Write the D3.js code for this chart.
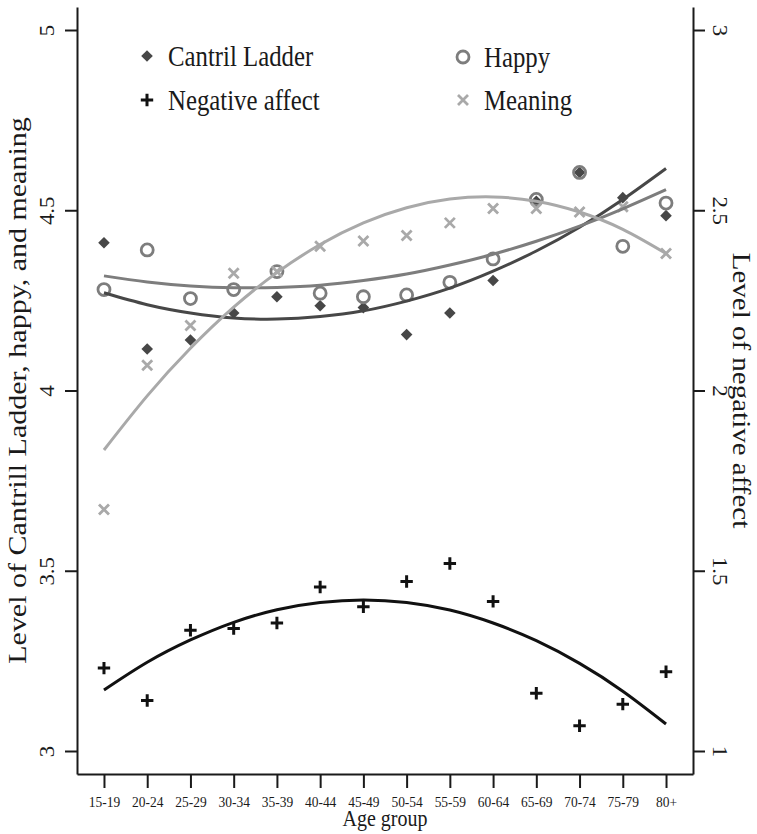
<!DOCTYPE html>
<html>
<head>
<meta charset="utf-8">
<script src="https://cdn.jsdelivr.net/npm/d3@7"></script>
<style>
  body { margin: 0; background: #fff; }
  svg text { font-family: "Liberation Serif", "Times New Roman", serif; fill: #1a1a1a; }
</style>
</head>
<body>
<svg id="chart" width="757" height="834"></svg>
<script>
/*** DATA ***/
var ages = ["15-19", "20-24", "25-29", "30-34", "35-39", "40-44", "45-49",
            "50-54", "55-59", "60-64", "65-69", "70-74", "75-79", "80+"];

// left axis series
var cantril = [4.41, 4.115, 4.14, 4.215, 4.26, 4.235, 4.23, 4.155, 4.215, 4.305, 4.525, 4.605, 4.535, 4.485];
var happy   = [4.28, 4.39, 4.255, 4.28, 4.33, 4.27, 4.26, 4.265, 4.30, 4.365, 4.53, 4.605, 4.40, 4.52];
var meaning = [3.67, 4.07, 4.18, 4.325, 4.33, 4.40, 4.415, 4.43, 4.465, 4.505, 4.505, 4.495, 4.51, 4.38];
// right axis series
var negAffect = [1.23, 1.14, 1.335, 1.34, 1.355, 1.455, 1.40, 1.47, 1.52, 1.415, 1.16, 1.07, 1.13, 1.22];

// fitted curves at each age group
var cantrilFit = [4.271, 4.238, 4.215, 4.201, 4.198, 4.205, 4.221, 4.248, 4.284, 4.331, 4.387, 4.453, 4.530, 4.616];
var happyFit   = [4.318, 4.301, 4.290, 4.285, 4.286, 4.292, 4.305, 4.323, 4.348, 4.378, 4.414, 4.456, 4.504, 4.557];
var meaningFit = [3.835, 3.985, 4.117, 4.231, 4.327, 4.405, 4.465, 4.507, 4.531, 4.537, 4.525, 4.495, 4.447, 4.380];
var negFit     = [1.169, 1.246, 1.308, 1.357, 1.392, 1.412, 1.419, 1.412, 1.391, 1.355, 1.306, 1.243, 1.166, 1.075];

var leftTicks = [3, 3.5, 4, 4.5, 5];
var rightTicks = [1, 1.5, 2, 2.5, 3];

/*** LAYOUT ***/
var plotLeft = 77, plotRight = 693, plotTop = 7, plotBottom = 774,
    SQ = 0.87,            // the original is a bit squeezed horizontally
    c_cantril = "#474747",
    c_happy = "#7d7d7d",
    c_meaning = "#a9a9a9",
    c_neg = "#111";

var svg = d3.select("#chart");

var x = d3.scalePoint().domain(ages).range([plotLeft, plotRight]).padding(0.624);

var yL = d3.scaleLinear().domain([3, 5]).range([751, 30]);
yL.domain([yL.invert(plotBottom), yL.invert(plotTop)]).range([plotBottom, plotTop]);
var yR = d3.scaleLinear().domain([1, 3]).range([751, 30]);
yR.domain([yR.invert(plotBottom), yR.invert(plotTop)]).range([plotBottom, plotTop]);

/*** AXES ***/
function styleAxis(g) {
  g.select(".domain").attr("stroke", "#1a1a1a").attr("stroke-width", 2);
  g.selectAll(".tick line").attr("stroke", "#1a1a1a").attr("stroke-width", 2);
  g.selectAll(".tick text").attr("fill", "#1a1a1a");
}

var gx = svg.append("g").attr("transform", "translate(0," + plotBottom + ")")
  .call(d3.axisBottom(x).tickSize(14).tickSizeOuter(0));
gx.call(styleAxis);
gx.selectAll(".tick text")
  .attr("y", null).attr("dy", null)
  .attr("font-size", "15.5px")
  .attr("transform", "translate(0,33) scale(" + SQ + ",1)");

var gl = svg.append("g").attr("transform", "translate(" + plotLeft + ",0)")
  .call(d3.axisLeft(yL).tickValues(leftTicks).tickSize(12).tickSizeOuter(0).tickFormat(String));
gl.call(styleAxis);
gl.selectAll(".tick text")
  .attr("x", null).attr("dy", null)
  .attr("text-anchor", "middle")
  .attr("font-size", "23px")
  .attr("transform", "translate(-23,0) scale(" + SQ + ",1) rotate(-90)");

var gr = svg.append("g").attr("transform", "translate(" + plotRight + ",0)")
  .call(d3.axisRight(yR).tickValues(rightTicks).tickSize(12).tickSizeOuter(0).tickFormat(String));
gr.call(styleAxis);
gr.selectAll(".tick text")
  .attr("x", null).attr("dy", null)
  .attr("text-anchor", "middle")
  .attr("font-size", "23px")
  .attr("transform", "translate(20,0) scale(" + SQ + ",1) rotate(90)");

// axis titles
var midY = (plotTop + plotBottom) / 2;
svg.append("text")
  .attr("text-anchor", "middle").attr("font-size", "23px")
  .attr("transform", "translate(" + ((plotLeft + plotRight) / 2) + ",826) scale(" + SQ + ",1)")
  .text("Age group");
svg.append("text")
  .attr("text-anchor", "middle").attr("font-size", "30px")
  .attr("transform", "translate(26," + midY + ") scale(" + SQ + ",1) rotate(-90)")
  .text("Level of Cantrill Ladder, happy, and meaning");
svg.append("text")
  .attr("text-anchor", "middle").attr("font-size", "29px")
  .attr("transform", "translate(733," + midY + ") scale(" + SQ + ",1) rotate(90)")
  .text("Level of negative affect");

/*** MARKERS ***/
function drawDiamond(g) {
  g.append("path").attr("d", "M0,-5.8L5.8,0L0,5.8L-5.8,0Z").attr("fill", c_cantril);
}
function drawCircle(g) {
  g.append("circle").attr("r", 6).attr("fill", "none")
    .attr("stroke", c_happy).attr("stroke-width", 2.8);
}
function drawCross(g) {
  g.append("path").attr("d", "M-5,-5L5,5M-5,5L5,-5")
    .attr("stroke", c_meaning).attr("stroke-width", 2.8).attr("fill", "none");
}
function drawPlus(g) {
  g.append("path").attr("d", "M-6.2,0H6.2M0,-6.2V6.2")
    .attr("stroke", c_neg).attr("stroke-width", 3).attr("fill", "none");
}

function scatter(values, scale, drawFn) {
  svg.append("g").selectAll("g").data(values).enter()
    .append("g")
      .attr("transform", (d, i) => "translate(" + x(ages[i]) + "," + scale(d) + ")")
      .each(function() { drawFn(d3.select(this)); });
}

scatter(cantril, yL, drawDiamond);
scatter(happy, yL, drawCircle);
scatter(meaning, yL, drawCross);
scatter(negAffect, yR, drawPlus);

/*** FIT LINES ***/
function fitLine(values, scale, color) {
  var line = d3.line()
    .x((d, i) => x(ages[i]))
    .y(d => scale(d))
    .curve(d3.curveNatural);
  svg.append("path").datum(values)
    .attr("d", line)
    .attr("fill", "none")
    .attr("stroke", color)
    .attr("stroke-width", 3);
}

fitLine(cantrilFit, yL, c_cantril);
fitLine(happyFit, yL, c_happy);
fitLine(meaningFit, yL, c_meaning);
fitLine(negFit, yR, c_neg);

/*** LEGEND ***/
var legendItems = [
  {label: "Cantril Ladder", draw: drawDiamond, x: 147, y: 56},
  {label: "Happy", draw: drawCircle, x: 463, y: 57},
  {label: "Negative affect", draw: drawPlus, x: 147, y: 100},
  {label: "Meaning", draw: drawCross, x: 463, y: 100}
];
var legend = svg.append("g").selectAll("g").data(legendItems).enter()
  .append("g").attr("transform", d => "translate(" + d.x + "," + d.y + ")");
legend.each(function(d) { d.draw(d3.select(this)); });
legend.append("text")
  .attr("font-size", "28.5px")
  .attr("transform", "translate(21,9.5) scale(" + SQ + ",1)")
  .text(d => d.label);
</script>
</body>
</html>
